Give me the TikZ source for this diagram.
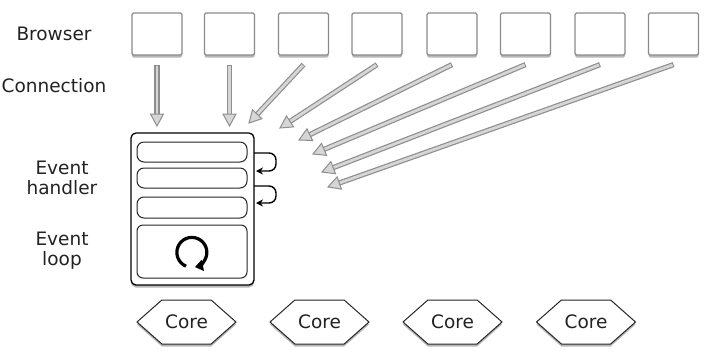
\documentclass[tikz,border=0pt]{standalone}
\usepackage{fontspec}
\setmainfont{DejaVu Sans}
\usetikzlibrary{calc,shadows,shapes.symbols,arrows.meta}
\definecolor{aedge}{HTML}{8E8E8E}
\definecolor{afill}{HTML}{D6D6D6}
\definecolor{bedge}{HTML}{8A8A8A}
\definecolor{txt}{HTML}{222222}
\newcommand\grayarrow[2]{%
  \coordinate (ga-e) at ($(#2)!12pt!(#1)$);
  \coordinate (ga-s) at ($(#1)!1pt!(#2)$);
  \draw[line width=5.2pt, draw=aedge] (#1) -- ($(#2)!11pt!(#1)$);
  \draw[line width=2.8pt, draw=afill] (ga-s) -- ($(#2)!10pt!(#1)$);
  \filldraw[fill=afill, draw=aedge, line width=1pt, line join=miter]
    (#2) -- ($(ga-e)!6.5pt!90:(#2)$) -- ($(ga-e)!6.5pt!-90:(#2)$) -- cycle;
}
\begin{document}
\begin{tikzpicture}[x=1pt,y=-1pt,
  font=\fontsize{18.5}{20}\selectfont, text=txt,
  shadowed/.style={drop shadow={shadow xshift=0pt, shadow yshift=-2.5pt, opacity=0.4, fill=black!70}},
  browser/.style={draw=bedge, line width=1.2pt, fill=white, rounded corners=1.5pt,
    minimum width=50pt, minimum height=42pt, inner sep=0pt, shadowed},
  server/.style={draw=black, line width=1.3pt, fill=white, rounded corners=5pt,
    minimum width=123pt, minimum height=152pt, inner sep=0pt, shadowed},
  handlerrow/.style={draw=black!85, line width=1pt, rounded corners=7pt,
    minimum width=110pt, inner sep=0pt},
  loopbox/.style={draw=black!85, line width=1pt, rounded corners=6pt,
    minimum width=110pt, minimum height=53pt, inner sep=0pt},
  core/.style={signal, signal to=west and east, signal pointer angle=83,
    draw=black!85, fill=white, line width=1pt, minimum width=99pt,
    minimum height=44pt, inner sep=0pt, shadowed},
  label/.style={align=center, inner sep=0pt},
  looparrow/.style={draw=black, line width=1.4pt, rounded corners=7pt,
    -{Stealth[length=7pt,width=7pt]}}
]
\useasboundingbox (0,0) rectangle (711,360);

% labels
\node[label] (lb) at (54,34) {Browser};
\node[label] (lc) at (54,86) {Connection};
\node[label] (lh) at (62,178) {Event\\handler};
\node[label] (ll) at (62,251) {Event\\loop};

% browsers
\foreach \i/\x in {1/157,2/229.5,3/303.5,4/377,5/452,6/525.5,7/600,8/673.5}
  \node[browser] (b\i) at (\x,34) {};

% server box
\node[server] (srv) at (192.5,209) {};
\node[handlerrow, minimum height=20pt] (r1) at (192,152) {};
\node[handlerrow, minimum height=20pt] (r2) at (192,178) {};
\node[handlerrow, minimum height=21pt] (r3) at (192,207.5) {};
\node[loopbox] (lp) at (192,251.5) {};

% loop icon
\draw[line width=3.2pt, -{Triangle[length=8pt,width=11pt]}]
  ($(lp.center)+(-6,14.7)$) arc[start angle=247, end angle=-78, radius=15pt];

% handler chaining arrows
\coordinate (h1s) at (254,153);
\coordinate (h1e) at (256,171);
\coordinate (h2s) at (254,186);
\coordinate (h2e) at (256,203);
\draw[looparrow] (h1s) -- (276,153) -- (276,171) -- (h1e);
\draw[looparrow] (h2s) -- (276,186) -- (276,203) -- (h2e);

% connection tips
\coordinate (t1) at (157,126);
\coordinate (t2) at (229.5,126);
\coordinate (t3) at (249,123);
\coordinate (t4) at (280,128);
\coordinate (t5) at (299,140);
\coordinate (t6) at (313,154);
\coordinate (t7) at (322,172);
\coordinate (t8) at (328,187);
\foreach \i in {1,...,8}
  \grayarrow{[yshift=-9pt]b\i.south}{t\i};

% cores
\node[core] (c1) at (186.5,322) {Core};
\node[core] (c2) at (319.5,322) {Core};
\node[core] (c3) at (452.5,322) {Core};
\node[core] (c4) at (586,322) {Core};
\end{tikzpicture}
\end{document}
